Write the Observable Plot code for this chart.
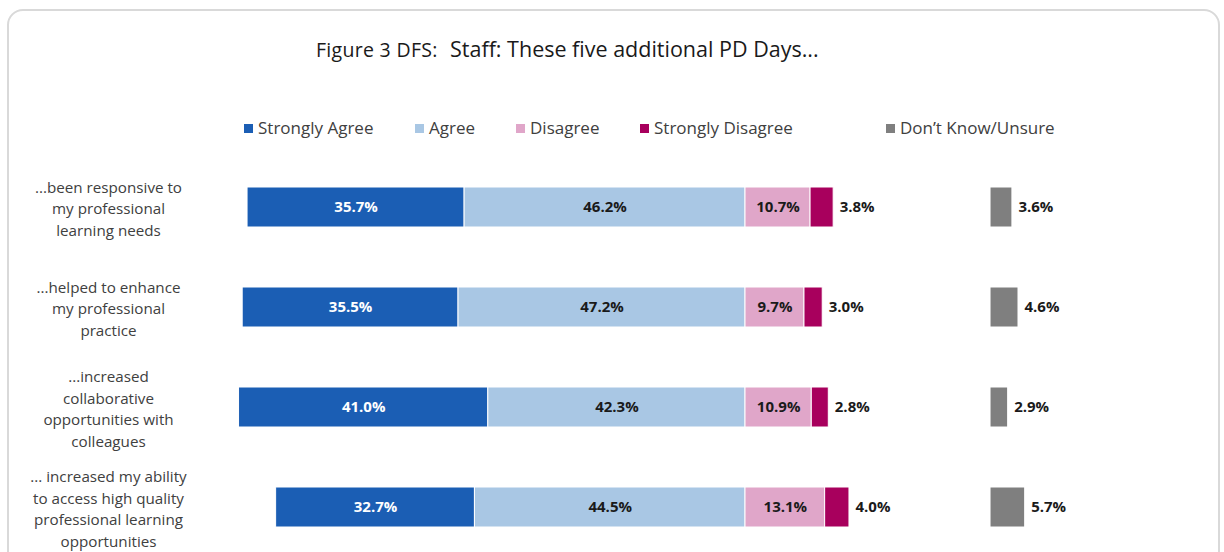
<!DOCTYPE html>
<html>
<head>
<meta charset="utf-8">
<script src="https://cdn.jsdelivr.net/npm/d3@7"></script>
<script src="https://cdn.jsdelivr.net/npm/@observablehq/plot@0.6"></script>
<style>
  html, body { margin: 0; padding: 0; width: 1224px; height: 552px; overflow: hidden; background: #fff; font-family: "Open Sans", Lato, sans-serif; }
  #frame { position: absolute; left: 7px; top: 9px; width: 1213px; height: 600px; border: 2px solid #d9d9d9; border-radius: 16px; box-sizing: border-box; }
  #title { position: absolute; left: 316px; top: 34px; color: #1a1a1a; white-space: nowrap; }
  #title .a { font-size: 19.5px; display: inline-block; width: 134px; letter-spacing: 0.3px; }
  #title .b { font-size: 21.5px; }
  #legend { position: absolute; top: 118px; left: 0; height: 20px; width: 1224px; }
  .li { position: absolute; top: 0; display: flex; align-items: center; font-size: 17px; color: #404040; white-space: nowrap; line-height: 20px; }
  .sw { width: 9px; height: 9px; margin-right: 5px; }
  #chart { position: absolute; left: 0; top: 157px; }
</style>
</head>
<body>
<div id="frame"></div>
<div id="title"><span class="a">Figure 3 DFS:</span><span class="b">Staff: These five additional PD Days...</span></div>
<div id="legend"></div>
<div id="chart"></div>
<script>
const categories = [
  "...been responsive to\nmy professional\nlearning needs",
  "...helped to enhance\nmy professional\npractice",
  "...increased\ncollaborative\nopportunities with\ncolleagues",
  "... increased my ability\nto access high quality\nprofessional learning\nopportunities"
];
const seriesNames = ["Strongly Agree", "Agree", "Disagree", "Strongly Disagree", "Don\u2019t Know/Unsure"];
const stronglyAgree = [35.7, 35.5, 41.0, 32.7];
const agree = [46.2, 47.2, 42.3, 44.5];
const disagree = [10.7, 9.7, 10.9, 13.1];
const stronglyDisagree = [3.8, 3.0, 2.8, 4.0];
const dontKnow = [3.6, 4.6, 2.9, 5.7];
const colors = ["#1b5eb4", "#a9c7e4", "#e0a6c9", "#a8005d", "#7f7f7f"];

// layout constants
const pxPerPct = 6.08;
const zeroPx = 745;
const dkOffset = 40.3;
const legendX = [244, 415, 516, 640, 886];

// legend
const leg = document.getElementById("legend");
seriesNames.forEach((s, i) => {
  const d = document.createElement("div");
  d.className = "li";
  d.style.left = legendX[i] + "px";
  d.innerHTML = `<span class="sw" style="background:${colors[i]}"></span><span>${s}</span>`;
  leg.appendChild(d);
});

// build segments
const segs = [];
categories.forEach((c, i) => {
  const sa = stronglyAgree[i], a = agree[i], d = disagree[i], sd = stronglyDisagree[i], dk = dontKnow[i];
  segs.push({cat: c, s: seriesNames[0], v: sa, x1: -(sa + a), x2: -a, lab: "mid", fill: "#ffffff"});
  segs.push({cat: c, s: seriesNames[1], v: a, x1: -a, x2: 0, lab: "mid", fill: "#1a1a1a"});
  segs.push({cat: c, s: seriesNames[2], v: d, x1: 0, x2: d, lab: "mid", fill: "#1a1a1a"});
  segs.push({cat: c, s: seriesNames[3], v: sd, x1: d, x2: d + sd, lab: "out", fill: "#1a1a1a"});
  segs.push({cat: c, s: seriesNames[4], v: dk, x1: dkOffset, x2: dkOffset + dk, lab: "out", fill: "#1a1a1a"});
});

const W = 1224, mL = 216;
const chart = Plot.plot({
  width: W,
  height: 400,
  marginLeft: mL,
  marginRight: 0,
  marginTop: 0,
  marginBottom: 0,
  style: {background: "transparent", fontFamily: "'Open Sans', Lato, sans-serif"},
  x: {domain: [(mL - zeroPx) / pxPerPct, (W - zeroPx) / pxPerPct], axis: null},
  y: {domain: categories, paddingInner: 0.6, paddingOuter: 0.3, label: null},
  color: {domain: seriesNames, range: colors},
  marks: [
    Plot.axisY({tickSize: 0, tickPadding: 0, textAnchor: "middle", dx: -108, fontSize: 15.2, lineHeight: 1.43, fill: "#404040", label: null}),
    Plot.barX(segs, {y: "cat", x1: "x1", x2: "x2", fill: "s", stroke: "#ffffff", strokeWidth: 1}),
    Plot.text(segs.filter(d => d.lab === "mid"), {y: "cat", x: d => (d.x1 + d.x2) / 2, text: d => d.v.toFixed(1) + "%", fill: d => d.fill, fontSize: 15, fontWeight: "bold"}),
    Plot.text(segs.filter(d => d.lab === "out"), {y: "cat", x: "x2", text: d => d.v.toFixed(1) + "%", fill: "#1a1a1a", fontSize: 15, fontWeight: "bold", textAnchor: "start", dx: 6})
  ]
});
document.getElementById("chart").appendChild(chart);
</script>
</body>
</html>
